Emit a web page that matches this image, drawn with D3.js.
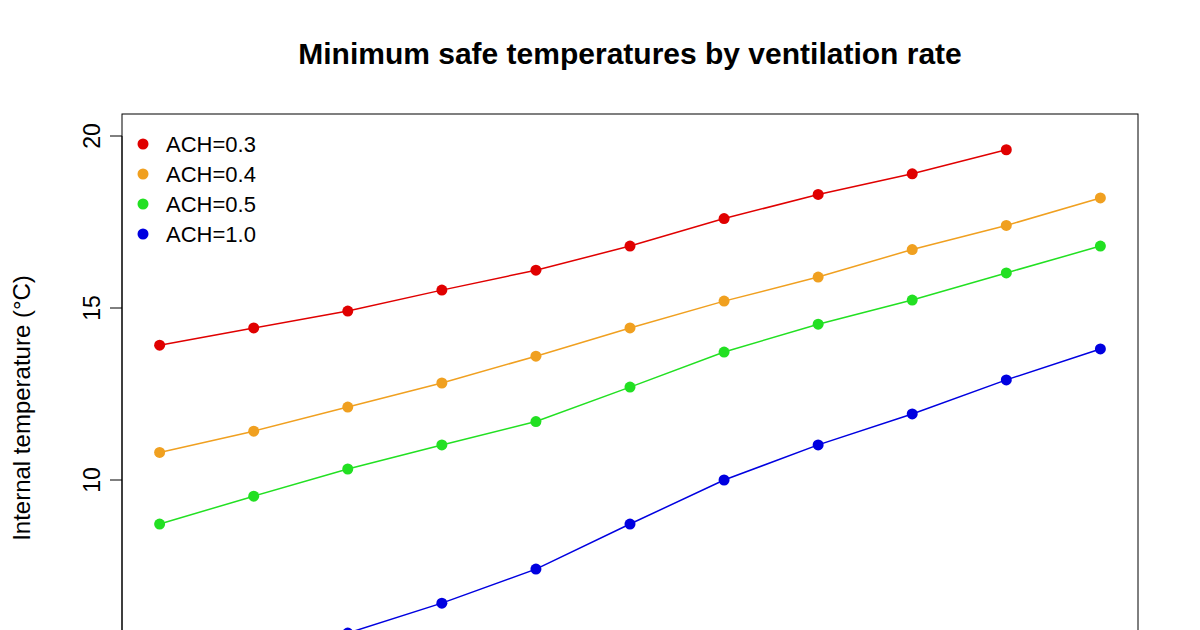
<!DOCTYPE html>
<html><head><meta charset="utf-8">
<script src="https://cdn.jsdelivr.net/npm/d3@7"></script>
<style>body{margin:0;background:#fff}text{font-family:"Liberation Sans",Arial,sans-serif}</style>
</head><body><svg id="c" width="1200" height="630"></svg>
<script>
const xIndex = [0,1,2,3,4,5,6,7,8,9,10];
const ach03 = [13.92,14.42,14.91,15.52,16.1,16.8,17.6,18.3,18.9,19.6];
const ach04 = [10.8,11.42,12.12,12.82,13.6,14.42,15.2,15.9,16.7,17.4,18.2];
const ach05 = [8.72,9.53,10.32,11.02,11.7,12.7,13.72,14.53,15.23,16.02,16.8];
const ach10 = [4.5,5.0,5.55,6.42,7.41,8.72,10,11.02,11.92,12.91,13.81];
const seriesNames = ["ACH=0.3","ACH=0.4","ACH=0.5","ACH=1.0"];
const colors = ["#e00000","#f0a020","#22e022","#0000e0"];
const yTicks = [10,15,20];

const svg = d3.select("#c");
const x = d3.scaleLinear().domain([-0.4,10.4]).range([122,1138]);
const y = d3.scaleLinear().domain([20,10]).range([136,480]);

svg.append("text").attr("x",630).attr("y",64).attr("text-anchor","middle")
  .attr("font-size",30).attr("font-weight","bold").text("Minimum safe temperatures by ventilation rate");

svg.append("rect").attr("x",122).attr("y",114).attr("width",1016).attr("height",y(3.8)-114)
  .attr("fill","none").attr("stroke","#000");

const ax = svg.append("g");
yTicks.forEach(t => {
  ax.append("line").attr("x1",110).attr("x2",122).attr("y1",y(t)).attr("y2",y(t)).attr("stroke","#000");
  ax.append("text").attr("transform",`translate(100,${y(t)}) rotate(-90)`).attr("text-anchor","middle")
    .attr("font-size",23).text(t);
});
ax.append("line").attr("x1",122).attr("x2",122).attr("y1",y(20)).attr("y2",640).attr("stroke","#000");
svg.append("text").attr("transform","translate(30,408) rotate(-90)").attr("text-anchor","middle")
  .attr("font-size",24).text("Internal temperature (°C)");

const line = d3.line().x((d,i)=>x(xIndex[i])).y(d=>y(d));
[ach03,ach04,ach05,ach10].forEach((s,k) => {
  svg.append("path").attr("d",line(s)).attr("fill","none").attr("stroke",colors[k]).attr("stroke-width",1.5);
  svg.selectAll(null).data(s).enter().append("circle")
    .attr("cx",(d,i)=>x(xIndex[i])).attr("cy",d=>y(d)).attr("r",5.5).attr("fill",colors[k]);
});

seriesNames.forEach((n,k) => {
  const yy = 144 + k*30;
  svg.append("circle").attr("cx",143).attr("cy",yy).attr("r",5.5).attr("fill",colors[k]);
  svg.append("text").attr("x",166).attr("y",yy+8).attr("font-size",22).text(n);
});
</script></body></html>
